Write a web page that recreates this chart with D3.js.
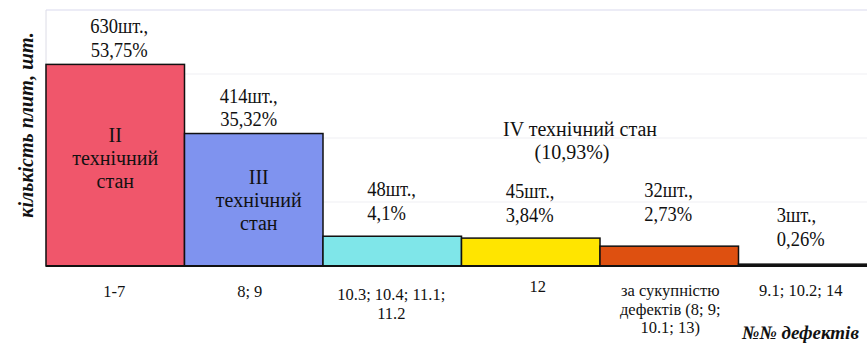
<!DOCTYPE html>
<html>
<head>
<meta charset="utf-8">
<script src="https://cdn.jsdelivr.net/npm/d3@7"></script>
<style>
  html, body { margin: 0; padding: 0; background: #fff; }
  svg { display: block; }
  text, tspan { font-family: "Liberation Serif", "Times New Roman", serif; fill: #111; }
</style>
</head>
<body>
<svg id="chart" width="867" height="344"></svg>
<script>
// ---- data ----
const categories = ["1-7", "8; 9", "10.3; 10.4; 11.1; 11.2", "12",
  "за сукупністю дефектів (8; 9; 10.1; 13)", "9.1; 10.2; 14"];
const categoryLines = [
  ["1-7"], ["8; 9"], ["10.3; 10.4; 11.1;", "11.2"], ["12"],
  ["за сукупністю", "дефектів (8; 9;", "10.1; 13)"], ["9.1; 10.2; 14"]
];
const counts = [630, 414, 48, 45, 32, 3];
const countLabels = ["630шт.,", "414шт.,", "48шт.,", "45шт.,", "32шт.,", "3шт.,"];
const percentLabels = ["53,75%", "35,32%", "4,1%", "3,84%", "2,73%", "0,26%"];
const stateLabels = [["II", "технічний", "стан"], ["III", "технічний", "стан"]];
const groupLabel = ["IV технічний стан", "(10,93%)"];
const gridTicks = [0, 200, 400, 600, 800];
const yTitle = "кількість плит, шт.";
const xTitle = "№№ дефектів";

// ---- styles ----
const colors = ["#f0566b", "#7f93ef", "#7fe6e9", "#ffe500", "#de5010", "#111111"];
const FONT = "Liberation Serif";

const svg = d3.select("#chart");
const plotLeft = 46, plotRight = 877, plotTop = 10, plotBase = 266;

const x = d3.scaleBand().domain(categories).range([plotLeft, plotRight]).padding(0);
const yGrid = d3.scaleLinear().domain([0, 800]).range([plotBase, plotTop]);
// bars in the original are drawn with the small values exaggerated
const yBar = d3.scaleLinear().domain([0, 50, 400, 800])
  .range([yGrid(0), yGrid(0) - 31, yGrid(400), yGrid(800)]);

function label(sel) {
  return sel.append("text").attr("font-family", FONT).attr("fill", "#111");
}

// grid
svg.append("g").selectAll("line").data(gridTicks.slice(1)).join("line")
  .attr("x1", plotLeft).attr("x2", plotRight)
  .attr("y1", d => yGrid(d)).attr("y2", d => yGrid(d))
  .attr("stroke", d => d === 800 ? "#d9d9ee" : "#efeff3").attr("stroke-width", 1.2);
svg.append("line").attr("x1", plotLeft).attr("x2", plotLeft).attr("y1", plotTop).attr("y2", plotBase)
  .attr("stroke", "#dcdce6").attr("stroke-width", 1);

// bars
svg.append("g").selectAll("rect").data(counts).join("rect")
  .attr("x", (d, i) => x(categories[i]))
  .attr("width", x.bandwidth())
  .attr("y", d => yBar(d))
  .attr("height", d => yBar(0) - yBar(d))
  .attr("fill", (d, i) => colors[i])
  .attr("stroke", "#111").attr("stroke-width", 1.5);

// baseline
svg.append("line").attr("x1", plotLeft).attr("x2", plotRight).attr("y1", plotBase).attr("y2", plotBase)
  .attr("stroke", "#111").attr("stroke-width", 2);

// value labels
const bigNudge = [4, -5];
const smallNudge = [[0, 0], [0, 0], [0, 0], [0, 0], [0, -9], [-6, -2]];
const valueStretch = "scale(0.95,1.1)";
counts.forEach((v, i) => {
  const cx = x(categories[i]) + x.bandwidth() / 2;
  if (i < 2) {
    const y1 = yBar(v) - 31;
    [countLabels[i], percentLabels[i]].forEach((s, k) => {
      label(svg).attr("text-anchor", "middle").attr("font-size", 19.5)
        .attr("transform", `translate(${cx + bigNudge[i]},${y1 + k * 23.5}) ${valueStretch}`)
        .text(s);
    });
  } else {
    const y1 = yBar(v) - 40 + smallNudge[i][1];
    [countLabels[i], percentLabels[i]].forEach((s, k) => {
      label(svg).attr("text-anchor", "start").attr("font-size", 19.5)
        .attr("transform", `translate(${cx - 25 + smallNudge[i][0]},${y1 + k * 23.5}) ${valueStretch}`)
        .text(s);
    });
  }
});

// state labels inside bars
const stateNudge = [[0, 0], [5, 7]];
stateLabels.forEach((lines, i) => {
  const v = counts[i];
  const cx = x(categories[i]) + x.bandwidth() / 2 + stateNudge[i][0];
  const mid = (yBar(v) + yBar(0)) / 2 + stateNudge[i][1];
  lines.forEach((s, k) => {
    label(svg).attr("text-anchor", "middle").attr("font-size", 20)
      .attr("x", cx).attr("y", mid - 23 + k * 23).text(s);
  });
});

// group label for IV state
label(svg).attr("text-anchor", "middle").attr("font-size", 20)
  .attr("x", 580).attr("y", yGrid(400) - 2).text(groupLabel[0]);
label(svg).attr("text-anchor", "middle").attr("font-size", 20)
  .attr("x", 572).attr("y", yGrid(400) + 20.5).text(groupLabel[1]);

// category labels
const catNudge = [[-1, 0], [-4, 0], [-1, 3], [7, -5], [1, -1], [-7, -1]];
categoryLines.forEach((lines, i) => {
  const cx = x(categories[i]) + x.bandwidth() / 2 + catNudge[i][0];
  lines.forEach((s, k) => {
    label(svg).attr("text-anchor", "middle").attr("font-size", 15)
      .attr("transform", `translate(${cx},${plotBase + 31 + catNudge[i][1] + k * 18.5}) scale(1.1,1.1)`)
      .text(s);
  });
});

// axis titles
label(svg)
  .attr("transform", `translate(33,${(plotTop + plotBase) / 2 - 13}) rotate(-90)`)
  .attr("text-anchor", "middle")
  .attr("font-size", 20).attr("font-weight", "bold").attr("font-style", "italic")
  .text(yTitle);

label(svg)
  .attr("x", 742).attr("y", 339)
  .attr("font-size", 19).attr("font-weight", "bold").attr("font-style", "italic")
  .text(xTitle);
</script>
</body>
</html>
